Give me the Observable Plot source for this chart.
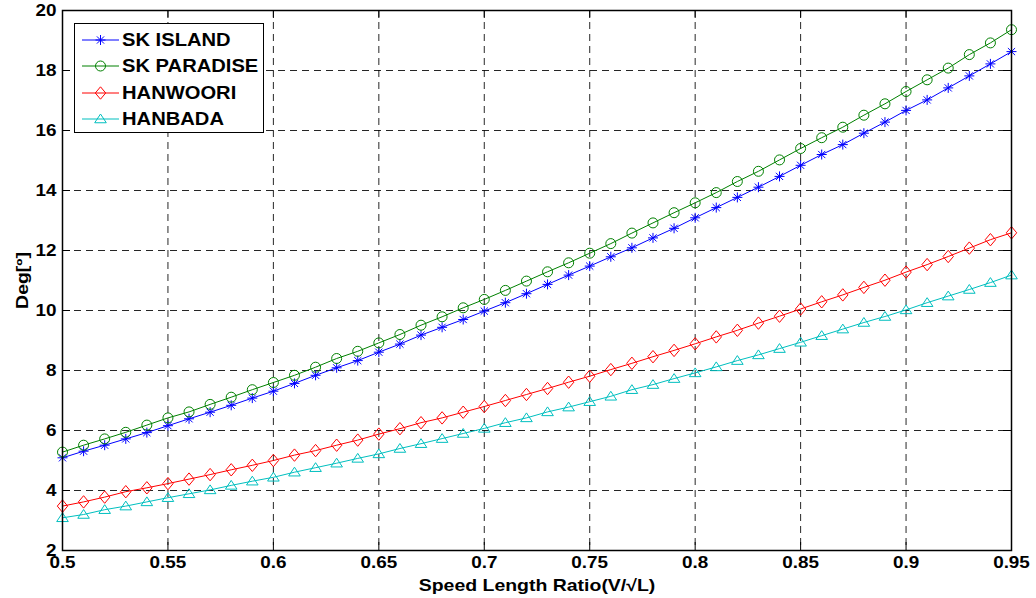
<!DOCTYPE html>
<html><head><meta charset="utf-8">
<script src="https://cdn.jsdelivr.net/npm/d3@7"></script>
<script src="https://cdn.jsdelivr.net/npm/@observablehq/plot@0.6"></script>
<style>
body{margin:0;background:#fff;}
#wrap{position:relative;width:1036px;height:598px;font-family:"Liberation Sans",Arial,sans-serif;}
#legend{position:absolute;left:74px;top:23px;width:190px;height:110px;border:1px solid #000;background:#fff;box-sizing:border-box;}
.row{position:absolute;left:0;height:26px;display:flex;align-items:center;font-weight:bold;font-size:18.5px;color:#000;white-space:nowrap;}
.row svg{display:block;margin-right:3px;}
.row span{display:inline-block;transform:scaleX(1.09);transform-origin:left center;}
</style></head><body><div id="wrap"></div>
<script>
const speedRatio = [0.50,0.51,0.52,0.53,0.54,0.55,0.56,0.57,0.58,0.59,
  0.60,0.61,0.62,0.63,0.64,0.65,0.66,0.67,0.68,0.69,
  0.70,0.71,0.72,0.73,0.74,0.75,0.76,0.77,0.78,0.79,
  0.80,0.81,0.82,0.83,0.84,0.85,0.86,0.87,0.88,0.89,
  0.90,0.91,0.92,0.93,0.94,0.95];
const skIsland = [5.09,5.31,5.51,5.72,5.93,6.16,6.39,6.61,6.84,7.08,
  7.31,7.57,7.84,8.09,8.33,8.61,8.88,9.18,9.44,9.70,
  9.98,10.26,10.56,10.87,11.18,11.48,11.79,12.09,12.42,12.74,
  13.09,13.43,13.77,14.11,14.47,14.84,15.20,15.53,15.91,16.28,
  16.67,17.02,17.42,17.82,18.22,18.63];
const skParadise = [5.28,5.51,5.72,5.94,6.18,6.42,6.62,6.87,7.11,7.36,
  7.60,7.84,8.11,8.40,8.64,8.92,9.20,9.51,9.79,10.09,
  10.37,10.67,10.98,11.29,11.59,11.91,12.23,12.58,12.92,13.26,
  13.59,13.93,14.30,14.64,15.02,15.40,15.76,16.11,16.51,16.89,
  17.30,17.69,18.08,18.53,18.92,19.36];
const hanwoori = [3.48,3.62,3.78,3.96,4.09,4.23,4.38,4.53,4.69,4.84,
  5.00,5.18,5.33,5.51,5.68,5.88,6.06,6.26,6.42,6.61,
  6.80,7.00,7.20,7.40,7.61,7.81,8.03,8.24,8.46,8.67,
  8.89,9.12,9.34,9.58,9.81,10.05,10.29,10.52,10.77,11.01,
  11.28,11.53,11.80,12.08,12.36,12.59];
const hanbada = [3.09,3.20,3.36,3.48,3.62,3.76,3.89,4.02,4.17,4.31,
  4.44,4.61,4.76,4.91,5.07,5.22,5.40,5.56,5.73,5.90,
  6.07,6.26,6.42,6.62,6.78,6.96,7.14,7.36,7.53,7.73,
  7.92,8.12,8.33,8.52,8.73,8.94,9.16,9.38,9.60,9.80,
  10.02,10.26,10.48,10.70,10.93,11.18];
const seriesNames = ["SK ISLAND","SK PARADISE","HANWOORI","HANBADA"];
const seriesColors = ["#0000ff","#008000","#ff0000","#00bfbf"];
const xTicks = [0.5,0.55,0.6,0.65,0.7,0.75,0.8,0.85,0.9,0.95];
const yTicks = [2,4,6,8,10,12,14,16,18,20];
const xLabel = "Speed Length Ratio(V/√L)";
const yLabel = "Deg[º]";

// marker shapes (MATLAB-like)
const symAsterisk = {draw(c){const r=5,d=3.6;c.moveTo(-r,0);c.lineTo(r,0);c.moveTo(0,-r);c.lineTo(0,r);c.moveTo(-d,-d);c.lineTo(d,d);c.moveTo(-d,d);c.lineTo(d,-d);}};
const symCircle = {draw(c){const r=5;c.moveTo(r,0);c.arc(0,0,r,0,2*Math.PI);c.closePath();}};
const symDiamond = {draw(c){const w=5.2,h=6.2;c.moveTo(0,-h);c.lineTo(w,0);c.lineTo(0,h);c.lineTo(-w,0);c.closePath();}};
const symTriangle = {draw(c){const w=5.8,h=5;c.moveTo(0,-h);c.lineTo(w,h*0.75);c.lineTo(-w,h*0.75);c.closePath();}};
const symbols = [symAsterisk, symCircle, symDiamond, symTriangle];
const seriesValues = [skIsland, skParadise, hanwoori, hanbada];

const rows = [];
seriesValues.forEach((vals,k)=>vals.forEach((v,i)=>rows.push({series:seriesNames[k], x:speedRatio[i], y:v})));

const fam = '"Liberation Sans", Arial, sans-serif';
const chart = Plot.plot({
  width:1036, height:598,
  marginLeft:62, marginRight:25, marginTop:10, marginBottom:48,
  style:{fontFamily:fam, fontSize:"16px", fontWeight:"bold", color:"#000", background:"#fff", overflow:"visible"},
  x:{domain:[0.5,0.95]},
  y:{domain:[2,20]},
  color:{domain:seriesNames, range:seriesColors},
  marks:[
    Plot.gridX(xTicks.slice(1,-1), {stroke:"#000", strokeOpacity:0.85, strokeDasharray:"7,5", strokeWidth:1}),
    Plot.gridY(yTicks.slice(1,-1), {stroke:"#000", strokeOpacity:0.85, strokeDasharray:"7,5", strokeWidth:1}),
    Plot.tickX(xTicks, {x:d=>d, insetTop:532, stroke:"#000"}),
    Plot.tickX(xTicks, {x:d=>d, insetBottom:532, stroke:"#000"}),
    Plot.tickY(yTicks, {y:d=>d, insetRight:941, stroke:"#000"}),
    Plot.tickY(yTicks, {y:d=>d, insetLeft:941, stroke:"#000"}),
    Plot.line(rows, {x:"x", y:"y", z:"series", stroke:"series", strokeWidth:1}),
    ...seriesNames.map((name,k)=>Plot.dot(rows.filter(d=>d.series===name), {x:"x", y:"y", symbol:symbols[k], fill:"none", stroke:seriesColors[k], strokeWidth:1, r:5})),
    Plot.frame({stroke:"#000", strokeWidth:1.5}),
    Plot.axisX(xTicks, {tickSize:0, tickPadding:6, tickFormat:d=>String(d), label:xLabel, labelAnchor:"center", labelOffset:40, labelArrow:"none", fontSize:16}),
    Plot.axisY(yTicks, {tickSize:0, tickPadding:6, tickFormat:d=>String(d), label:yLabel, labelAnchor:"center", labelOffset:46, labelArrow:"none", fontSize:16})
  ]
});
// stretch text horizontally (the reference's lettering is wide)
d3.select(chart).selectAll("text").each(function(){
  const t = this.getAttribute("transform");
  if (t) this.setAttribute("transform", t + " scale(1.18,1)");
});
d3.select(chart).selectAll("g[aria-label='x-axis label'] text, g[aria-label='y-axis label'] text").attr("font-size", 16.5);
const wrap = document.getElementById("wrap");
wrap.appendChild(chart);

// legend
const leg = document.createElement("div");
leg.id = "legend";
seriesNames.forEach((name,k)=>{
  const row = document.createElement("div");
  row.className = "row";
  row.style.top = (3 + k*26.3) + "px";
  const svg = d3.create("svg").attr("width",44).attr("height",26);
  svg.append("line").attr("x1",7).attr("x2",44).attr("y1",13).attr("y2",13).attr("stroke",seriesColors[k]).attr("stroke-width",1);
  const p = d3.path(); symbols[k].draw(p);
  svg.append("path").attr("d",p.toString()).attr("transform","translate(25.5,13)").attr("fill","none").attr("stroke",seriesColors[k]);
  row.appendChild(svg.node());
  const t = document.createElement("span"); t.textContent = name;
  row.appendChild(t);
  leg.appendChild(row);
});
wrap.appendChild(leg);
</script></body></html>
